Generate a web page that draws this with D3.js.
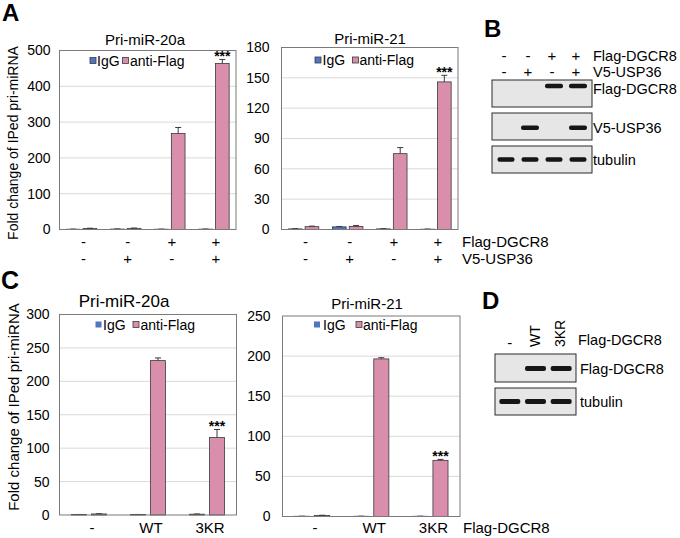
<!DOCTYPE html>
<html><head><meta charset="utf-8">
<script src="https://cdn.jsdelivr.net/npm/d3@7"></script>
<style>body{margin:0;background:#fff;} svg{display:block;font-family:"Liberation Sans",Arial,sans-serif;}</style>
</head><body><svg id="fig" width="680" height="538"></svg>
<script>
// ---------------- DATA ----------------
const seriesNames = ["IgG", "anti-Flag"];
const aGroups = ["g1", "g2", "g3", "g4"];
const aFlagDGCR8 = ["-", "-", "+", "+"];
const aV5USP36 = ["-", "+", "-", "+"];
const a20aIgG = [0.8, 1.2, 0.8, 1.0];
const a20aIgGErr = [0.3, 0.4, 0.3, 0.3];
const a20aFlag = [3.0, 3.2, 268, 464];
const a20aFlagErr = [0.6, 0.8, 17, 11];
const a20aTicks = [0, 100, 200, 300, 400, 500];
const a21IgG = [0.6, 2.6, 0.6, 0.3];
const a21IgGErr = [0.2, 0.4, 0.2, 0.1];
const a21Flag = [2.8, 3.0, 75, 146];
const a21FlagErr = [0.5, 1.0, 6, 6.5];
const a21Ticks = [0, 30, 60, 90, 120, 150, 180];
const cGroups = ["-", "WT", "3KR"];
const c20aIgG = [0.6, 0.6, 1.2];
const c20aIgGErr = [0.2, 0.2, 0.3];
const c20aFlag = [1.6, 231, 116];
const c20aFlagErr = [0.3, 4, 12];
const c20aTicks = [0, 50, 100, 150, 200, 250, 300];
const c21IgG = [0.3, 0.3, 0.3];
const c21IgGErr = [0.1, 0.1, 0.1];
const c21Flag = [1.2, 196.5, 70];
const c21FlagErr = [0.4, 1.5, 1.2];
const c21Ticks = [0, 50, 100, 150, 200, 250];
const bLanesFlag = ["-", "-", "+", "+"];
const bLanesV5 = ["-", "+", "-", "+"];
const bBlotLabels = ["Flag-DGCR8", "V5-USP36", "tubulin"];
const bBandFlag = [0, 0, 1, 1];
const bBandV5 = [0, 1, 0, 1];
const bBandTub = [1, 1, 1, 1];
const dLanes = ["-", "WT", "3KR"];
const dBlotLabels = ["Flag-DGCR8", "tubulin"];
const dBandFlag = [0, 1, 1];
const dBandTub = [1, 1, 1];

// ---------------- DRAWING ----------------
const svg = d3.select("#fig");
const FONT = "'Liberation Sans', Arial, sans-serif";
const colIgG = "#4f76c4", colFlag = "#d98fab", edge = "#3a3a3a";

function txt(x, yc, s, size, anchor = "start", weight = "normal", g = svg) {
  return g.append("text").attr("x", x).attr("y", yc + 0.36 * size)
    .attr("font-size", size).attr("font-weight", weight)
    .attr("text-anchor", anchor).attr("font-family", FONT).attr("fill", "#000").text(s);
}

function barChart(o) {
  const g = svg.append("g");
  const x = d3.scaleBand().domain(o.groups).range([o.left, o.right]).padding(0);
  const y = d3.scaleLinear().domain([0, o.max]).range([o.bottom, o.top]);
  const s = x.step();
  const xs = d3.scaleBand().domain(seriesNames).range([s * o.subA, s * (1 - o.subA)]).paddingInner(o.subPad);
  g.append("g").selectAll("line").data(o.ticks.filter(t => t > 0 && t < o.max)).join("line")
    .attr("x1", o.left).attr("x2", o.right).attr("y1", d => y(d)).attr("y2", d => y(d))
    .attr("stroke", "#d9d9d9").attr("stroke-width", 1);
  const ax = g.append("g").attr("transform", `translate(${o.left},0)`)
    .call(d3.axisLeft(y).tickValues(o.ticks).tickSize(0).tickPadding(o.tickPad));
  ax.select(".domain").remove();
  ax.selectAll("text").attr("font-size", 14).attr("font-family", FONT).attr("fill", "#000");
  const series = [
    { name: "IgG", v: o.igg, e: o.iggErr, c: colIgG },
    { name: "anti-Flag", v: o.flag, e: o.flagErr, c: colFlag }
  ];
  series.forEach(se => {
    const data = o.groups.map((gname, i) => ({ g: gname, v: se.v[i], e: se.e[i] }));
    g.append("g").selectAll("rect").data(data).join("rect")
      .attr("x", d => x(d.g) + xs(se.name)).attr("width", xs.bandwidth())
      .attr("y", d => y(d.v)).attr("height", d => y(0) - y(d.v))
      .attr("fill", se.c).attr("stroke", edge).attr("stroke-width", 0.8);
    const eg = g.append("g").attr("stroke", edge).attr("stroke-width", 1);
    data.forEach(d => {
      const cx = x(d.g) + xs(se.name) + xs.bandwidth() / 2;
      eg.append("line").attr("x1", cx).attr("x2", cx).attr("y1", y(d.v)).attr("y2", y(d.v + d.e));
      eg.append("line").attr("x1", cx - 3).attr("x2", cx + 3).attr("y1", y(d.v + d.e)).attr("y2", y(d.v + d.e));
    });
    if (se.name === "anti-Flag" && o.starIdx != null) {
      const i = o.starIdx;
      const cx = x(o.groups[i]) + xs(se.name) + xs.bandwidth() / 2;
      g.append("text").attr("x", cx).attr("y", y(se.v[i] + se.e[i]) - 6 + 0.55 * 14)
        .attr("font-size", 14).attr("font-weight", "bold").attr("text-anchor", "middle")
        .attr("font-family", FONT).text("***");
    }
  });
  g.append("rect").attr("x", o.left).attr("y", o.top).attr("width", o.right - o.left)
    .attr("height", o.bottom - o.top).attr("fill", "none").attr("stroke", "#7a7a7a").attr("stroke-width", 1);
  txt(o.titleX, o.titleY, o.title, o.titleSize, "middle", "normal", g);
  o.legend.forEach((L, k) => {
    const bordered = !(o.iggNoBorder && k === 0);
    g.append("rect").attr("x", L.sx).attr("y", o.legY - 3).attr("width", 6).attr("height", 6)
      .attr("fill", k === 0 ? colIgG : colFlag).attr("stroke", bordered ? edge : "none").attr("stroke-width", 0.8);
    txt(L.tx, o.legY, seriesNames[k], 14, "start", "normal", g);
  });
  return { x, y };
}

// Panel A
const aL = barChart({ groups: aGroups, left: 59.5, right: 236, top: 50.5, bottom: 229.5, max: 500, ticks: a20aTicks,
  igg: a20aIgG, iggErr: a20aIgGErr, flag: a20aFlag, flagErr: a20aFlagErr, subA: 0.155, subPad: 0.184, tickPad: 9,
  title: "Pri-miR-20a", titleX: 145, titleY: 40, titleSize: 15, starIdx: 3,
  legY: 60.5, legend: [{ sx: 90, tx: 97 }, { sx: 122.5, tx: 130 }] });
const aR = barChart({ groups: aGroups, left: 281.5, right: 458, top: 47.5, bottom: 229.5, max: 180, ticks: a21Ticks,
  igg: a21IgG, iggErr: a21IgGErr, flag: a21Flag, flagErr: a21FlagErr, subA: 0.155, subPad: 0.184, tickPad: 12,
  title: "Pri-miR-21", titleX: 370, titleY: 39, titleSize: 15, starIdx: 3,
  legY: 60, legend: [{ sx: 315, tx: 322.5 }, { sx: 352.5, tx: 359.5 }] });
[aL, aR].forEach(ch => {
  aGroups.forEach((gname, i) => {
    const cx = ch.x(gname) + ch.x.bandwidth() / 2 + 2;
    txt(cx, 242, aFlagDGCR8[i], 15, "middle");
    txt(cx, 259, aV5USP36[i], 15, "middle");
  });
});
txt(462, 241.5, "Flag-DGCR8", 15);
txt(462, 259, "V5-USP36", 15);
svg.append("text").attr("transform", "translate(18,143) rotate(-90)").attr("text-anchor", "middle")
  .attr("font-size", 14).attr("font-family", FONT).text("Fold change of IPed pri-miRNA");

// Panel C
const cL = barChart({ groups: cGroups, left: 59.5, right: 236.5, top: 314.5, bottom: 515, max: 300, ticks: c20aTicks,
  igg: c20aIgG, iggErr: c20aIgGErr, flag: c20aFlag, flagErr: c20aFlagErr, subA: 0.2025, subPad: 0.25, tickPad: 10,
  title: "Pri-miR-20a", titleX: 124, titleY: 300.5, titleSize: 17, starIdx: 2, iggNoBorder: true,
  legY: 324.5, legend: [{ sx: 95.5, tx: 103 }, { sx: 133, tx: 140.5 }] });
const cR = barChart({ groups: cGroups, left: 282.5, right: 460, top: 316, bottom: 516.5, max: 250, ticks: c21Ticks,
  igg: c21IgG, iggErr: c21IgGErr, flag: c21Flag, flagErr: c21FlagErr, subA: 0.2025, subPad: 0.25, tickPad: 12,
  title: "Pri-miR-21", titleX: 367, titleY: 304, titleSize: 15, starIdx: 2, iggNoBorder: true,
  legY: 324.5, legend: [{ sx: 314, tx: 323 }, { sx: 356, tx: 363 }] });
[cL, cR].forEach(ch => {
  cGroups.forEach(gname => {
    txt(ch.x(gname) + ch.x.bandwidth() / 2 + 3, 528, gname, 15, "middle");
  });
});
txt(463, 528, "Flag-DGCR8", 15);
svg.append("text").attr("transform", "translate(18.5,407) rotate(-90)").attr("text-anchor", "middle")
  .attr("font-size", 15).attr("font-family", FONT).text("Fold change of IPed pri-miRNA");

// Blots
const defs = svg.append("defs");
defs.append("filter").attr("id", "blur").append("feGaussianBlur").attr("stdDeviation", 0.7);

function blot(top, h, lanes, bands, bandFrac, bandW, bandH, label, labelX, labelY) {
  svg.append("rect").attr("x", lanes.range()[0] - 2).attr("y", top).attr("width", lanes.range()[1] - lanes.range()[0] + 4)
    .attr("height", h).attr("fill", "#e6e6e6").attr("stroke", "#2a2a2a").attr("stroke-width", 1);
  const cy = top + h * bandFrac;
  svg.append("g").selectAll("rect").data(lanes.domain().map((d, i) => ({ d, b: bands[i] })).filter(e => e.b > 0))
    .join("rect").attr("x", e => lanes(e.d) + lanes.bandwidth() / 2 - bandW / 2).attr("width", bandW)
    .attr("y", cy - bandH / 2).attr("height", bandH).attr("rx", 2).attr("fill", "#151515").attr("filter", "url(#blur)");
  txt(labelX, labelY, label, 14.5);
}

// Panel B
const bLanes = d3.scaleBand().domain(d3.range(bLanesFlag.length)).range([494, 590]);
bLanesFlag.forEach((s, i) => txt(bLanes(i) + bLanes.bandwidth() / 2 - 2, 56, s, 15, "middle"));
bLanesV5.forEach((s, i) => txt(bLanes(i) + bLanes.bandwidth() / 2 - 2, 72, s, 15, "middle"));
txt(593, 56, "Flag-DGCR8", 14.5);
txt(593, 72, "V5-USP36", 14.5);
blot(80, 27, bLanes, bBandFlag, 0.22, 18, 4.5, bBlotLabels[0], 593, 89);
blot(113, 27, bLanes, bBandV5, 0.55, 18, 4.5, bBlotLabels[1], 593, 128);
blot(146, 27, bLanes, bBandTub, 0.5, 17, 4.5, bBlotLabels[2], 593, 160);

// Panel D
const dL = d3.scaleBand().domain(d3.range(dLanes.length)).range([497, 574]);
dLanes.forEach((s, i) => {
  const cx = dL(i) + dL.bandwidth() / 2;
  if (s === "-") txt(cx, 343, s, 15, "middle");
  else svg.append("text").attr("transform", `translate(${cx + 4},347) rotate(-90)`).attr("font-size", 14)
    .attr("font-family", FONT).attr("text-anchor", "start").text(s);
});
txt(578, 340, "Flag-DGCR8", 14.5);
blot(354, 28, dL, dBandFlag, 0.52, 21, 5, dBlotLabels[0], 580, 369);
blot(388, 27, dL, dBandTub, 0.5, 21, 5, dBlotLabels[1], 580, 402);

// Panel letters
txt(2, 12, "A", 24, "start", "bold");
txt(484, 28, "B", 24, "start", "bold");
txt(1, 280, "C", 25, "start", "bold");
txt(482, 300, "D", 24, "start", "bold");
</script></body></html>
